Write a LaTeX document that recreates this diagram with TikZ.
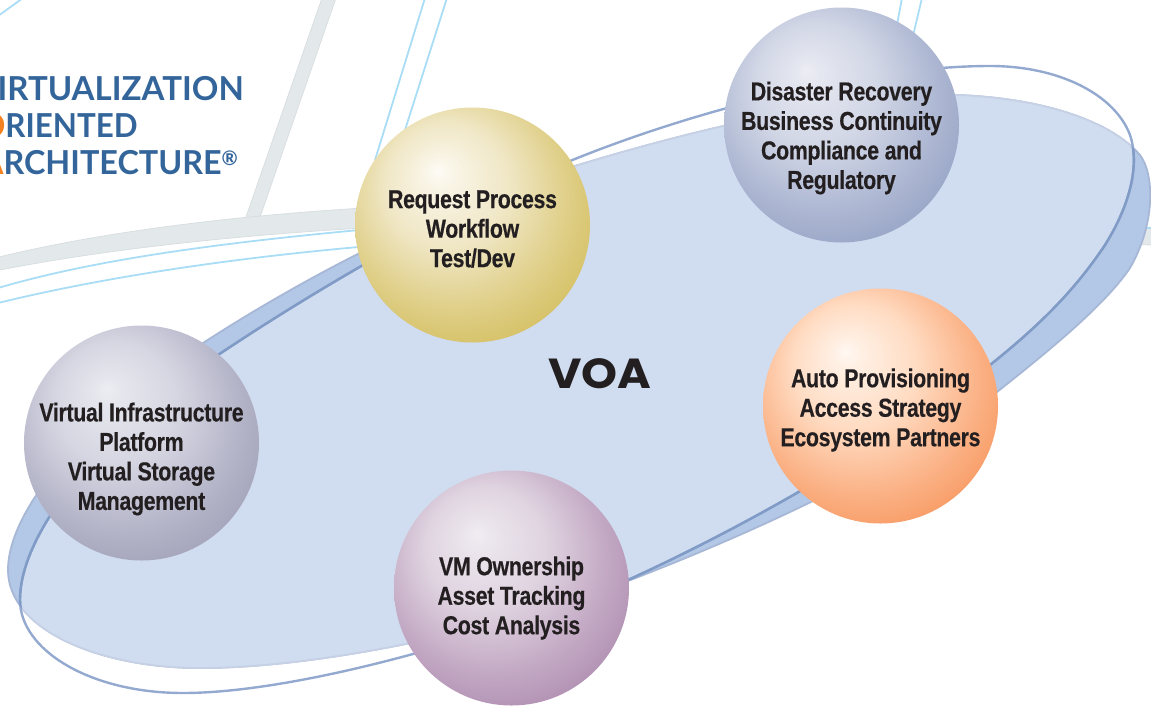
\documentclass[tikz,border=0pt]{standalone}
\usepackage{fontspec}
\newfontfamily\sphfont[FakeStretch=0.82,LetterSpace=-1.2,FakeBold=0.4]{Liberation Sans}
\newfontfamily\titlefont{Lato}
\newfontfamily\voafont{Poppins}
\definecolor{bandgray}{HTML}{E3E8EA}
\definecolor{bandedge}{HTML}{D9DEE1}
\definecolor{skyline}{HTML}{A9DDF6}
\definecolor{voadeep}{HTML}{B3C8E6}
\definecolor{voalight}{HTML}{D0DCEF}
\definecolor{edgeA}{HTML}{A7B7D6}
\definecolor{edgeAlight}{HTML}{C6D1E6}
\definecolor{edgeB}{HTML}{94A9D0}
\definecolor{edgeBdeep}{HTML}{7F9BC6}
\definecolor{titleblue}{HTML}{33659A}
\definecolor{titleorange}{HTML}{F58220}
\definecolor{inkdark}{HTML}{231F20}
\newcommand{\mksphere}[5]{%
  \pgfdeclareradialshading{#1}{\pgfpoint{-7.5bp}{11.7bp}}{%
    color(0bp)=(#2); color(3bp)=(#2!70!#3); color(13bp)=(#3); color(24bp)=(#4); color(36bp)=(#5); color(50bp)=(#5)}}
\definecolor{ra}{HTML}{FDFBF5}\definecolor{rb}{HTML}{F0E7C6}\definecolor{rc}{HTML}{DFCF88}\definecolor{rd}{HTML}{CFB84F}
\definecolor{da}{HTML}{ECEDF4}\definecolor{db}{HTML}{D2D7E6}\definecolor{dc}{HTML}{AEB8D3}\definecolor{dd}{HTML}{8C9ABF}
\definecolor{aa}{HTML}{FFF8F2}\definecolor{ab}{HTML}{FFDCC3}\definecolor{ac}{HTML}{FBB489}\definecolor{ad}{HTML}{F68D50}
\definecolor{va}{HTML}{F0EDF2}\definecolor{vb}{HTML}{DFD3E0}\definecolor{vc}{HTML}{C3A9C4}\definecolor{vd}{HTML}{A681A9}
\definecolor{ia}{HTML}{ECECF2}\definecolor{ib}{HTML}{D6D6E2}\definecolor{ic}{HTML}{B6B6CA}\definecolor{id}{HTML}{9898B0}
\mksphere{sphReq}{ra}{rb}{rc}{rd}
\mksphere{sphDis}{da}{db}{dc}{dd}
\mksphere{sphAuto}{aa}{ab}{ac}{ad}
\mksphere{sphVM}{va}{vb}{vc}{vd}
\mksphere{sphInf}{ia}{ib}{ic}{id}
\tikzset{
  sphere/.style={circle,minimum size=235pt,inner sep=0pt,outer sep=0pt},
  sphtext/.style={inner sep=0pt,align=center,text=inkdark,
    font=\sphfont\bfseries\fontsize{26}{29.5}\selectfont},
  skyln/.style={draw=skyline,line width=1.8pt},
  titleln/.style={inner sep=0pt,anchor=base east,text=titleblue,font=\titlefont\bfseries\fontsize{33}{36}\selectfont}
}
\newcommand{\pathA}{(957,95) .. controls (1040,98) and (1110,120) .. (1140,155)
  .. controls (1155,175) and (1155,225) .. (1130,268)
  .. controls (1105,305) and (1050,350) .. (997,392)
  .. controls (900,465) and (760,530) .. (628,581)
  .. controls (500,630) and (320,668) .. (200,668)
  .. controls (100,668) and (8,630) .. (8,570)
  .. controls (8,500) and (110,400) .. (203,343)
  .. controls (300,280) and (440,205) .. (575,166)
  .. controls (700,128) and (840,95) .. (957,95) -- cycle}
\newcommand{\pathB}{(990,66) .. controls (1060,66) and (1115,95) .. (1130,135)
  .. controls (1140,165) and (1130,205) .. (1105,245)
  .. controls (1075,290) and (1040,325) .. (990,365)
  .. controls (900,435) and (770,515) .. (628,580)
  .. controls (500,635) and (300,693) .. (183,693)
  .. controls (90,693) and (20,650) .. (20,600)
  .. controls (20,520) and (130,410) .. (218,355)
  .. controls (300,300) and (440,215) .. (570,161)
  .. controls (700,108) and (870,66) .. (990,66) -- cycle}
\begin{document}
\begin{tikzpicture}[x=1pt,y=-1pt]
\useasboundingbox (0,0) rectangle (1151,707);
% background strokes
\fill[bandgray,draw=bandedge,line width=.8pt] (322,-2) -- (336,-2) -- (259,220) -- (245,220) -- cycle;
\fill[bandgray,draw=bandedge,line width=.8pt] (-5,258) .. controls (100,232) and (240,214) .. (400,206)
  -- (1153,228) -- (1153,245) -- (400,226) .. controls (240,234) and (100,250) .. (-5,271) -- cycle;
\draw[skyln] (-2,288) .. controls (100,258) and (230,242) .. (370,229);
\draw[skyln] (-2,303) .. controls (100,278) and (230,258) .. (370,246);
\draw[skyln] (1130,227) -- (1153,228);
\draw[skyln] (425,-2) -- (375,160);
\draw[skyln] (447,-2) -- (405,130);
\draw[skyln] (902,-2) -- (896,30);
\draw[skyln] (922,-2) -- (912,40);
\draw[skyln] (23,-2) -- (-2,16);
% VOA disc
\fill[voadeep] \pathA;
\draw[edgeA,line width=1.8pt] \pathA;
\begin{scope}
  \clip \pathB;
  \fill[voalight] \pathA;
  \draw[edgeAlight,line width=1.8pt] \pathA;
\end{scope}
\draw[edgeB,line width=2.4pt] \pathB;
\begin{scope}
  \clip \pathA;
  \draw[edgeBdeep,line width=2.4pt] \pathB;
\end{scope}
% title
\node[titleln] (t1) at (244,100) {{\color{titleorange}V}IRTUALIZATION};
\node[titleln,xscale=.95] (t2) at (138,137) {{\color{titleorange}O}RIENTED};
\node[titleln,xscale=.98] (t3) at (238,174) {{\color{titleorange}A}RCHITECTURE\raisebox{9pt}{\fontsize{20}{20}\selectfont ®}};
\node[inner sep=0pt,text=inkdark,xscale=1.09,font=\voafont\bfseries\fontsize{42}{42}\selectfont] (voa) at (600,374) {VOA};
% spheres
\node[sphere,shade,shading=sphReq] (req) at (472.5,225) {};
\node[sphere,shade,shading=sphDis] (dis) at (841.5,125) {};
\node[sphere,shade,shading=sphAuto] (auto) at (880.5,406) {};
\node[sphere,shade,shading=sphVM] (vm) at (511.5,588) {};
\node[sphere,shade,shading=sphInf] (inf) at (141.5,443) {};
\node[sphtext] (reqt) at ([yshift=-4pt]req.center) {Request Process\\Workflow\\Test/Dev};
\node[sphtext] (dist) at ([yshift=-13pt]dis.center) {Disaster Recovery\\Business Continuity\\Compliance and\\Regulatory};
\node[sphtext] (autot) at ([yshift=-4pt]auto.center) {Auto Provisioning\\Access Strategy\\Ecosystem Partners};
\node[sphtext] (vmt) at ([yshift=-10pt]vm.center) {VM Ownership\\Asset Tracking\\Cost Analysis};
\node[sphtext] (inft) at ([yshift=-16pt]inf.center) {Virtual Infrastructure\\Platform\\Virtual Storage\\Management};
\end{tikzpicture}
\end{document}
